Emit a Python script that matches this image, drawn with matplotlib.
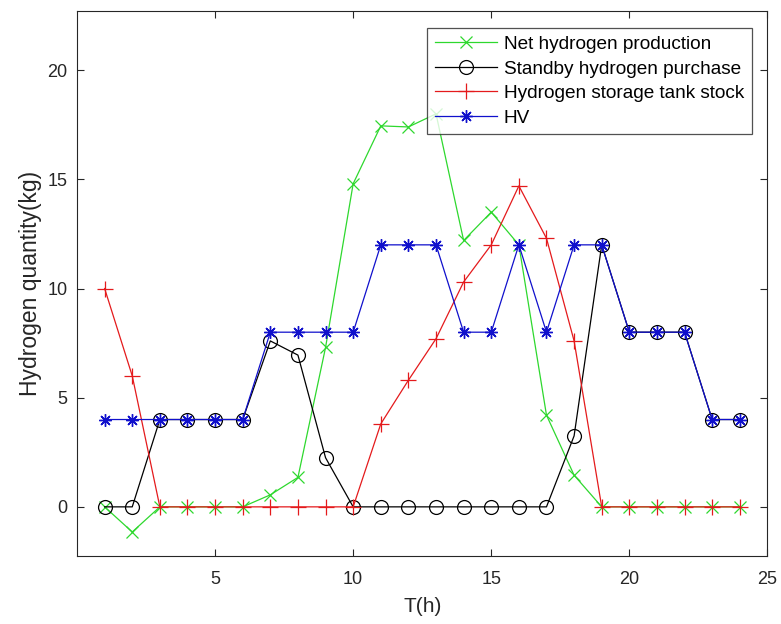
import numpy as np
import matplotlib
matplotlib.use("Agg")
from matplotlib import pyplot as plt

plt.rcParams['font.family'] = ['Liberation Sans', 'DejaVu Sans']

hours = list(range(1, 25))
net_production = [0, -1.15, 0, 0, 0, 0, 0.55, 1.35, 7.3, 14.8, 17.45, 17.4,
                  18.0, 12.2, 13.5, 12.0, 4.2, 1.45, 0, 0, 0, 0, 0, 0]
standby_purchase = [0, 0, 4, 4, 4, 4, 7.6, 6.95, 2.25, 0, 0, 0,
                    0, 0, 0, 0, 0, 3.25, 12, 8, 8, 8, 4, 4]
tank_stock = [10, 6, 0, 0, 0, 0, 0, 0, 0, 0, 3.8, 5.8,
              7.7, 10.3, 12.0, 14.7, 12.3, 7.6, 0, 0, 0, 0, 0, 0]
hv = [4, 4, 4, 4, 4, 4, 8, 8, 8, 8, 12, 12,
      12, 8, 8, 12, 8, 12, 12, 8, 8, 8, 4, 4]

labels = ['Net hydrogen production', 'Standby hydrogen purchase',
          'Hydrogen storage tank stock', 'HV']

fig = plt.figure(figsize=(7.81, 6.24), dpi=100)
ax = fig.add_axes([0.0986, 0.109, 0.884, 0.873])

lw = 0.9
asterisk = (8, 2, 0)
ax.plot(hours, net_production, color='#2ed82e', marker='x', markersize=8,
        linewidth=lw, markeredgewidth=0.9, label=labels[0])
ax.plot(hours, standby_purchase, color='black', marker='o', markersize=10,
        markerfacecolor='none', linewidth=lw, markeredgewidth=0.9, label=labels[1])
ax.plot(hours, tank_stock, color='#e41a1c', marker='+', markersize=12,
        linewidth=lw, markeredgewidth=0.9, label=labels[2])
ax.plot(hours, hv, color='#1010cc', marker=asterisk, markersize=9,
        linewidth=lw, markeredgewidth=1.0, label=labels[3])

ax.set_xlim(0, 25)
ax.set_ylim(-2.25, 22.7)
ax.set_xticks([5, 10, 15, 20, 25])
ax.set_yticks([0, 5, 10, 15, 20])
ax.tick_params(direction='in', top=True, right=True, length=5, width=0.8,
               labelsize=13, colors='#262626')
ax.tick_params(axis='x', pad=11)
ax.tick_params(axis='y', pad=7)
for s in ax.spines.values():
    s.set_linewidth(0.8)
    s.set_color('#262626')

ax.set_xlabel('T(h)', fontsize=15, color='#262626', labelpad=6)
ax.set_ylabel('Hydrogen quantity(kg)', fontsize=16.5, color='#262626', labelpad=4)

leg = ax.legend(loc='upper right', bbox_to_anchor=(0.977, 0.969), fontsize=13.7,
                frameon=True, fancybox=False, edgecolor='#262626',
                handlelength=3.3, labelspacing=0.38, borderpad=0.4,
                handletextpad=0.33, borderaxespad=0)
leg.get_frame().set_linewidth(0.9)

fig.savefig('out.png', dpi=100)
